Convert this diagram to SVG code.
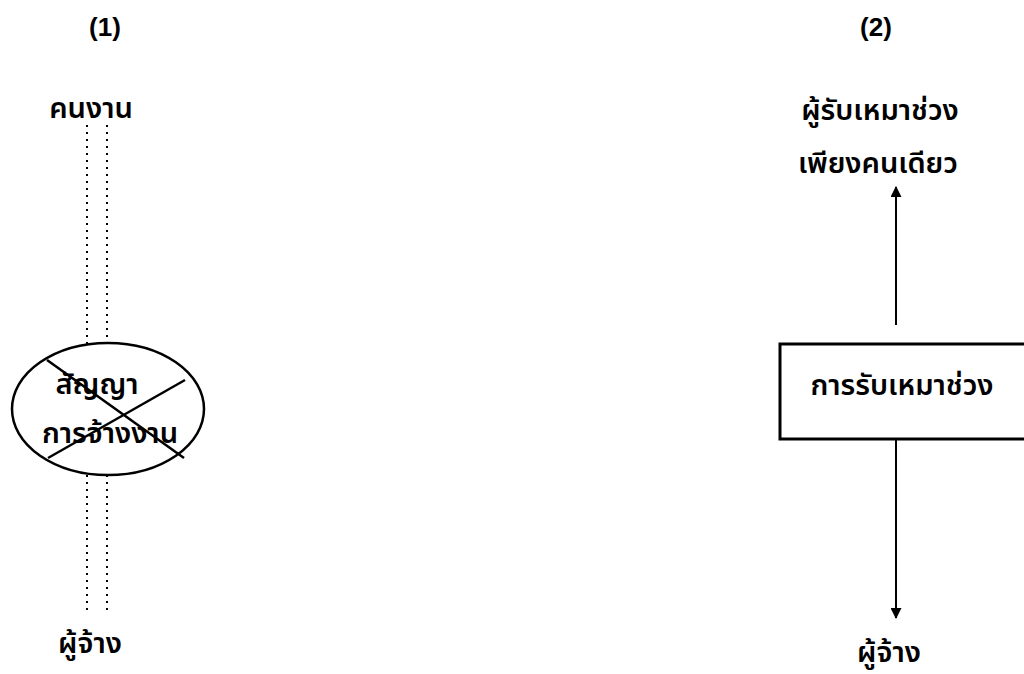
<svg xmlns="http://www.w3.org/2000/svg" width="1024" height="674" viewBox="0 0 1024 674">
<style>
.t{font-family:"Liberation Sans","Noto Sans Thai","Noto Sans","DejaVu Sans",sans-serif;font-size:29px;fill:#000;font-weight:600}
.n{font-family:"Liberation Sans",Arial,sans-serif;font-size:26px;font-weight:bold;fill:#000}
.dot{stroke:#000;stroke-width:2;stroke-dasharray:2 5;fill:none}
.ln{stroke:#000;stroke-width:2.5;fill:none}
</style>
<defs>
<marker id="ah" viewBox="0 0 10 10" refX="9" refY="5" markerWidth="12" markerHeight="11" orient="auto" markerUnits="userSpaceOnUse">
<path d="M0,0 L10,5 L0,10 z" fill="#000"/>
</marker>
</defs>
<rect width="1024" height="674" fill="#fff"/>
<g id="label1"><text class="n" x="105" y="36" text-anchor="middle">(1)</text></g>
<g id="label2"><text class="n" x="876" y="36" text-anchor="middle">(2)</text></g>
<g id="connectors">
<line class="dot" x1="87" y1="125" x2="87" y2="345"/>
<line class="dot" x1="107" y1="125" x2="107" y2="345"/>
<line class="dot" x1="87" y1="475" x2="87" y2="615"/>
<line class="dot" x1="107" y1="475" x2="107" y2="615"/>
<line class="ln" x1="896" y1="325" x2="896" y2="187" marker-end="url(#ah)" style="stroke-width:2"/>
<line class="ln" x1="896" y1="439" x2="896" y2="618" marker-end="url(#ah)" style="stroke-width:2"/>
</g>
<g id="worker"><text class="t" x="91" y="118" text-anchor="middle">คนงาน</text></g>
<g id="contract">
<ellipse class="ln" cx="108" cy="409" rx="96" ry="66"/>
<text class="t" x="97" y="394" text-anchor="middle">สัญญา</text>
<text class="t" x="110" y="443" text-anchor="middle">การจ้างงาน</text>
<line class="ln" x1="47" y1="360" x2="184" y2="458"/>
<line class="ln" x1="185" y1="380" x2="48" y2="458"/>
</g>
<g id="employer1"><text class="t" x="90" y="653" text-anchor="middle">ผู้จ้าง</text></g>
<g id="subcontractor">
<text class="t" x="880" y="120" text-anchor="middle">ผู้รับเหมาช่วง</text>
<text class="t" x="878" y="173" text-anchor="middle">เพียงคนเดียว</text>
</g>
<g id="subcontracting">
<rect class="ln" x="780" y="344" width="260" height="95" style="stroke-width:3"/>
<text class="t" x="902" y="395" text-anchor="middle">การรับเหมาช่วง</text>
</g>
<g id="employer2"><text class="t" x="889" y="662" text-anchor="middle">ผู้จ้าง</text></g>
</svg>
